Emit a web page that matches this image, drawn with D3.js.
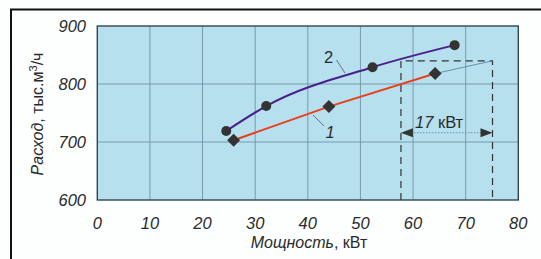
<!DOCTYPE html>
<html>
<head>
<meta charset="utf-8">
<script src="https://cdn.jsdelivr.net/npm/d3@7"></script>
<style>
  body { margin: 0; background: #fdfefe; }
  svg { display: block; font-family: "Liberation Sans", Arial, sans-serif; }
</style>
</head>
<body>
<svg id="chart" width="541" height="259"></svg>
<script>
// axis ticks
var xTicks = [0, 10, 20, 30, 40, 50, 60, 70, 80];
var yTicks = [600, 700, 800, 900];

// curve 2 (circles)
var power2 = [24.5, 32.1, 52.3, 67.9];
var flow2 = [719, 762, 829, 867];

// curve 1 (diamonds)
var power1 = [25.9, 44.0, 64.2];
var flow1 = [703, 761, 818];

// 17 kW annotation
var gapX = [57.7, 75.1];
var gapTop = 840;
var arrowFlow = 716;

var svg = d3.select("#chart");
var plotLeft = 97.3, plotRight = 518.3, plotTop = 26, plotBottom = 200;

var x = d3.scaleLinear().domain([0, 80]).range([plotLeft, plotRight]);
var y = d3.scaleLinear().domain([600, 900]).range([plotBottom, plotTop]);

// outer frame (top and left only)
svg.append("path")
    .attr("d", "M11,259 L11,9.5 L541,9.5")
    .attr("fill", "none")
    .attr("stroke", "#111")
    .attr("stroke-width", 2);

// plot background
svg.append("rect")
    .attr("x", plotLeft).attr("y", plotTop)
    .attr("width", plotRight - plotLeft).attr("height", plotBottom - plotTop)
    .attr("fill", "#b7e0ee");

// grid
var grid = svg.append("g").attr("stroke", "#6f93a6").attr("stroke-width", 0.9);
xTicks.slice(1, -1).forEach(function (d) {
    grid.append("line").attr("x1", x(d)).attr("x2", x(d)).attr("y1", plotTop).attr("y2", plotBottom);
});
yTicks.slice(1, -1).forEach(function (d) {
    grid.append("line").attr("x1", plotLeft).attr("x2", plotRight).attr("y1", y(d)).attr("y2", y(d));
});

svg.append("rect")
    .attr("x", plotLeft).attr("y", plotTop)
    .attr("width", plotRight - plotLeft).attr("height", plotBottom - plotTop)
    .attr("fill", "none")
    .attr("stroke", "#2f4654")
    .attr("stroke-width", 1.4);

// tick labels
svg.append("g").selectAll("text")
    .data(xTicks).enter().append("text")
    .attr("x", function (d) { return x(d); })
    .attr("y", 229)
    .attr("text-anchor", "middle")
    .attr("font-style", "italic")
    .attr("font-size", 16.5)
    .attr("fill", "#2a2a2a")
    .text(function (d) { return d; });

svg.append("g").selectAll("text")
    .data(yTicks).enter().append("text")
    .attr("x", 86)
    .attr("y", function (d) { return y(d) + 6; })
    .attr("text-anchor", "end")
    .attr("font-style", "italic")
    .attr("font-size", 16.5)
    .attr("fill", "#2a2a2a")
    .text(function (d) { return d; });

// axis titles
var xt = svg.append("text")
    .attr("x", 309).attr("y", 248)
    .attr("text-anchor", "middle")
    .attr("font-size", 16)
    .attr("fill", "#2a2a2a");
xt.append("tspan").attr("font-style", "italic").text("Мощность");
xt.append("tspan").text(", кВт");

var yt = svg.append("text")
    .attr("transform", "translate(42.5,114) rotate(-90)")
    .attr("text-anchor", "middle")
    .attr("font-size", 16)
    .attr("fill", "#2a2a2a");
yt.append("tspan").attr("font-style", "italic").text("Расход");
yt.append("tspan").text(", тыс.м");
yt.append("tspan").attr("font-size", 11).attr("dy", -6).text("3");
yt.append("tspan").attr("dy", 6).text("/ч");

// dashed annotation box
var dash = svg.append("g")
    .attr("stroke", "#333")
    .attr("stroke-width", 1.2)
    .attr("stroke-dasharray", "7,5")
    .attr("fill", "none");
dash.append("path")
    .attr("d", "M" + x(gapX[0]) + "," + y(600) + " L" + x(gapX[0]) + "," + y(gapTop) +
               " L" + x(gapX[1]) + "," + y(gapTop) + " L" + x(gapX[1]) + "," + y(600));

// thin extension of curve 1
svg.append("line")
    .attr("x1", x(power1[2])).attr("y1", y(flow1[2]))
    .attr("x2", x(gapX[1])).attr("y2", y(gapTop))
    .attr("stroke", "#5b88a8")
    .attr("stroke-width", 0.9);

// lines
var line2 = d3.line()
    .x(function (d, i) { return x(power2[i]); })
    .y(function (d) { return y(d); })
    .curve(d3.curveMonotoneX);
svg.append("path")
    .attr("d", line2(flow2))
    .attr("fill", "none")
    .attr("stroke", "#4a1f8c")
    .attr("stroke-width", 2);

var line1 = d3.line()
    .x(function (d, i) { return x(power1[i]); })
    .y(function (d) { return y(d); });
svg.append("path")
    .attr("d", line1(flow1))
    .attr("fill", "none")
    .attr("stroke", "#e8401c")
    .attr("stroke-width", 2);

// markers
svg.append("g").selectAll("circle")
    .data(flow2).enter().append("circle")
    .attr("cx", function (d, i) { return x(power2[i]); })
    .attr("cy", function (d) { return y(d); })
    .attr("r", 5)
    .attr("fill", "#333");

svg.append("g").selectAll("path")
    .data(flow1).enter().append("path")
    .attr("transform", function (d, i) { return "translate(" + x(power1[i]) + "," + y(d) + ")"; })
    .attr("d", "M0,-6.5 L6.5,0 L0,6.5 L-6.5,0 Z")
    .attr("fill", "#333");

// 17 kW arrow
var ay = y(arrowFlow);
svg.append("line")
    .attr("x1", x(gapX[0]) + 10).attr("x2", x(gapX[1]) - 10)
    .attr("y1", ay).attr("y2", ay)
    .attr("stroke", "#5b88a8")
    .attr("stroke-width", 0.9)
    .attr("stroke-dasharray", "1.5,1.5");
svg.append("path")
    .attr("d", "M" + x(gapX[0]) + "," + ay + " l12,-4.5 l0,9 Z")
    .attr("fill", "#333");
svg.append("path")
    .attr("d", "M" + x(gapX[1]) + "," + ay + " l-12,-4.5 l0,9 Z")
    .attr("fill", "#333");

var lbl = svg.append("text")
    .attr("x", 415).attr("y", 127.5)
    .attr("font-size", 16.5)
    .attr("fill", "#2a2a2a");
lbl.append("tspan").attr("font-style", "italic").text("17");
lbl.append("tspan").text(" кВт");

// series labels with leaders
svg.append("line")
    .attr("x1", 336.5).attr("y1", 60).attr("x2", 345).attr("y2", 73)
    .attr("stroke", "#555").attr("stroke-width", 0.8);
svg.append("text")
    .attr("x", 328.5).attr("y", 63)
    .attr("text-anchor", "middle")
    .attr("font-size", 16.5)
    .attr("fill", "#2a2a2a")
    .text("2");

svg.append("line")
    .attr("x1", 313).attr("y1", 115).attr("x2", 324).attr("y2", 126)
    .attr("stroke", "#555").attr("stroke-width", 0.8);
svg.append("text")
    .attr("x", 330).attr("y", 137.5)
    .attr("text-anchor", "middle")
    .attr("font-style", "italic")
    .attr("font-size", 16.5)
    .attr("fill", "#2a2a2a")
    .text("1");
</script>
</body>
</html>
